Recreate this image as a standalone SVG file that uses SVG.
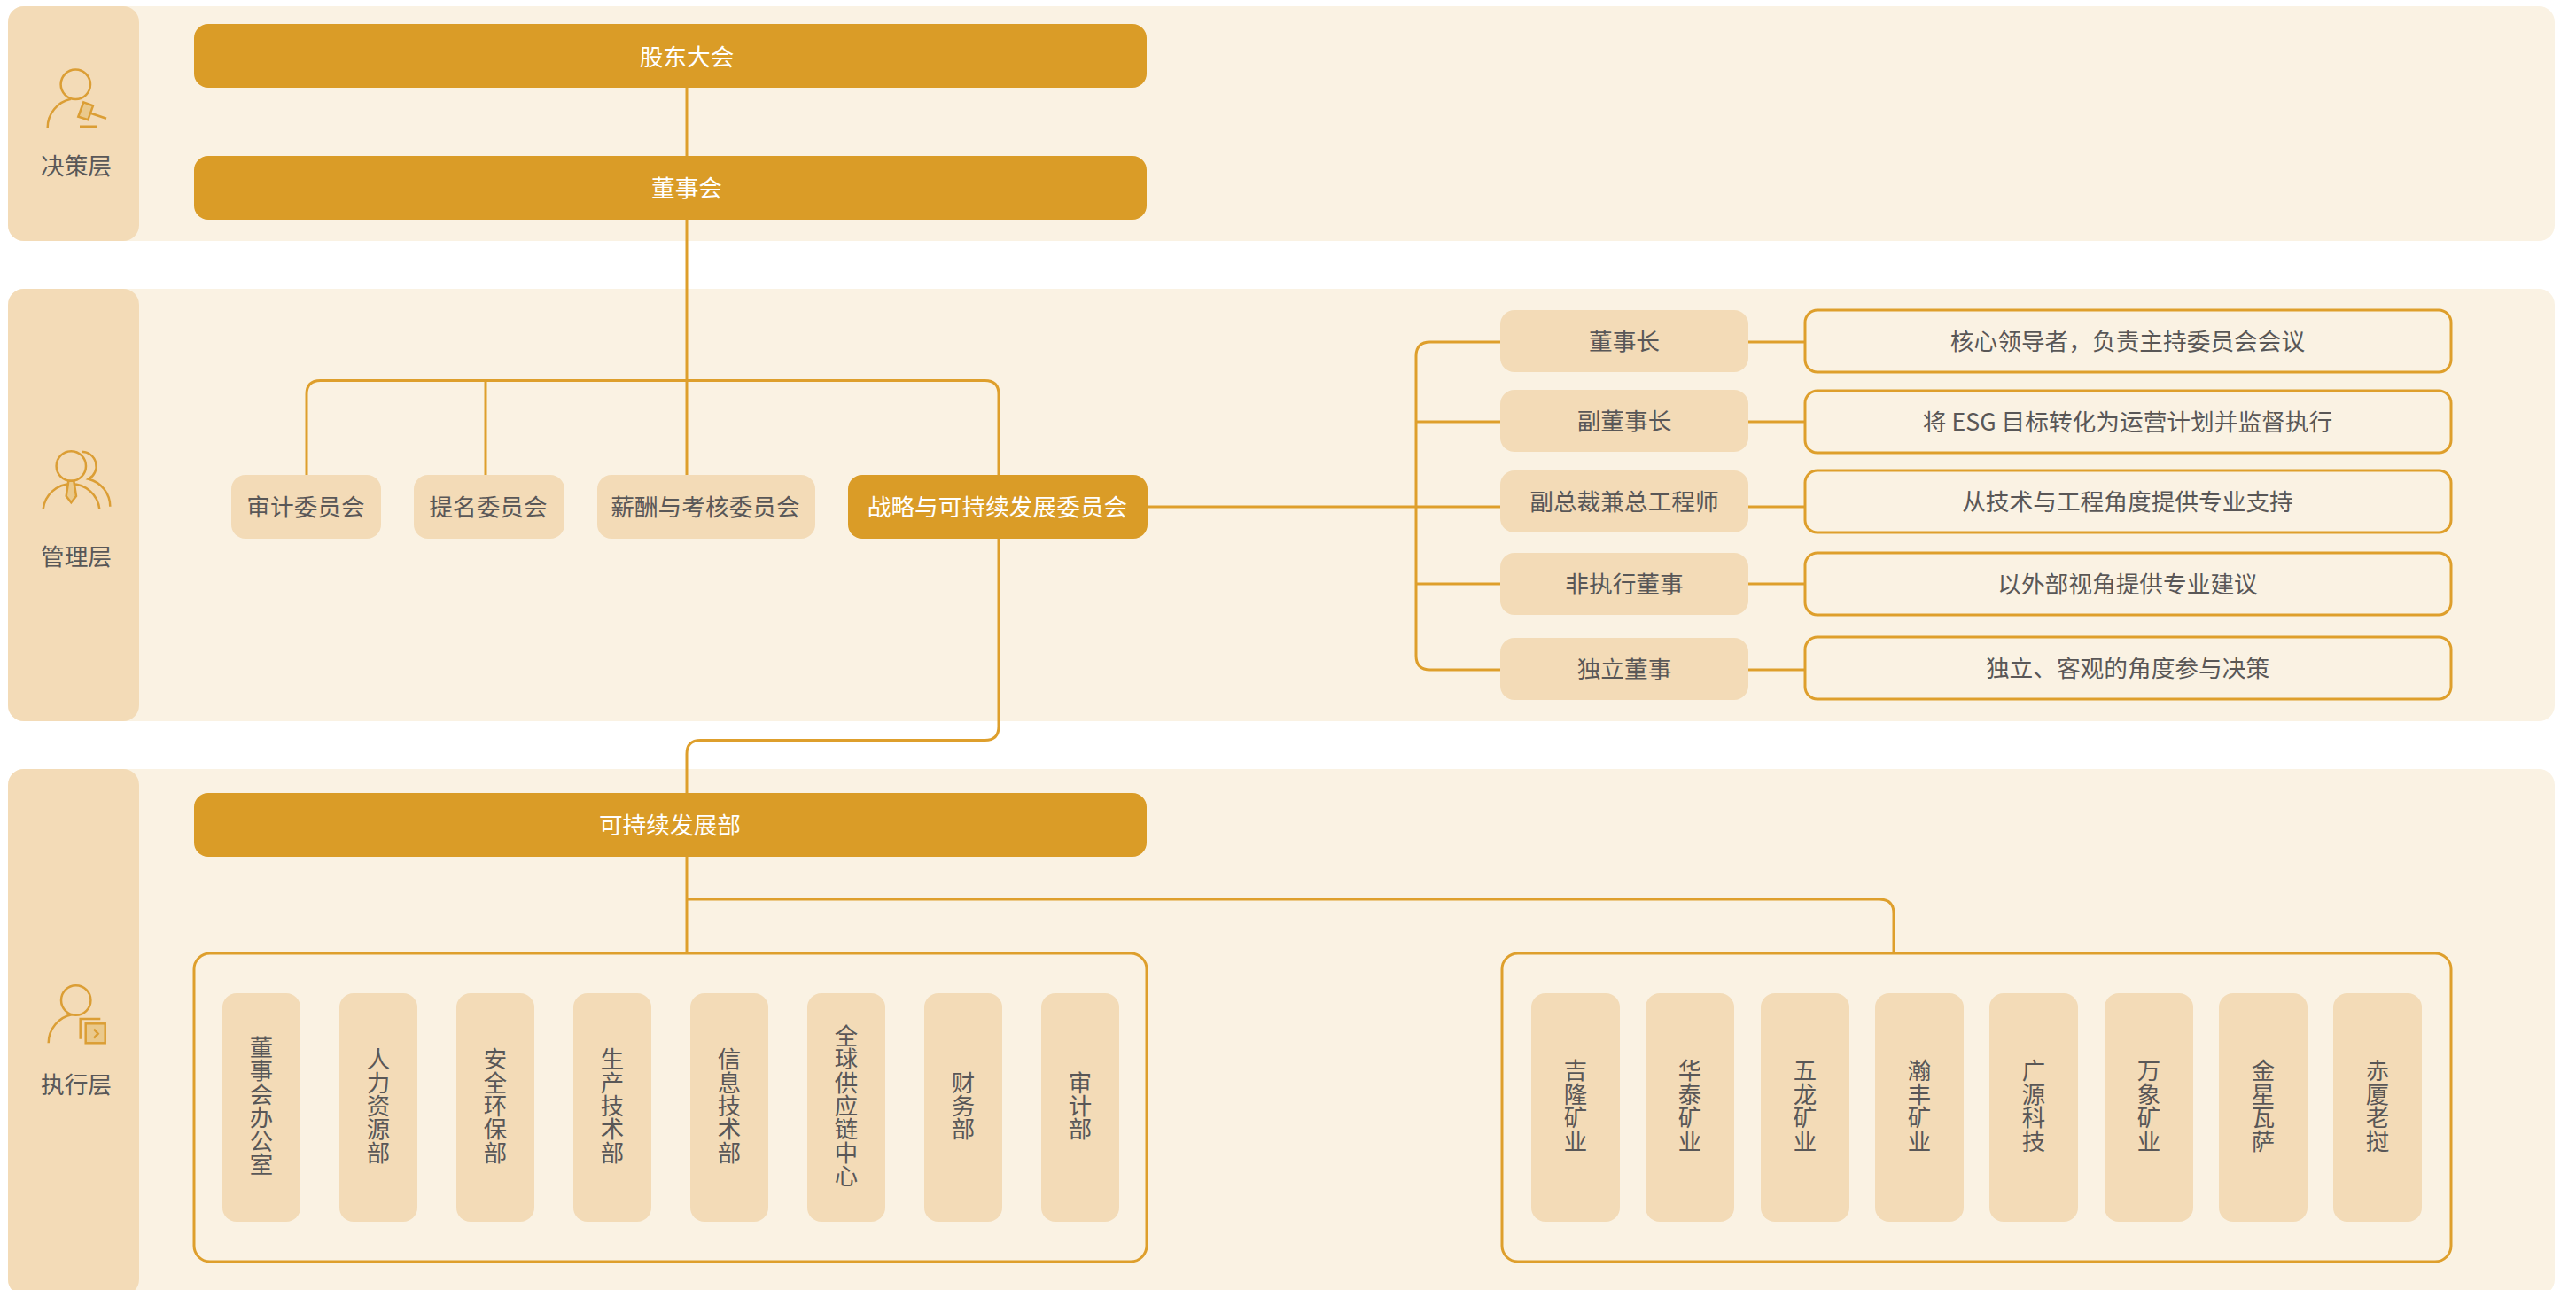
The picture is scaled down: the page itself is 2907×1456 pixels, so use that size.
<svg xmlns="http://www.w3.org/2000/svg" width="2907" height="1456" viewBox="0 0 2907 1456">
<style>
text{font-family:"Noto Sans CJK SC","Noto Sans",sans-serif;font-size:26.7px;text-anchor:middle;fill:#595757}
.w{fill:#fff}
.v{writing-mode:vertical-rl;text-orientation:upright;font-size:26.4px}
.band{fill:#FAF2E3}
.lab{fill:#F3DBB7}
.dark{fill:#DA9C27}
.det{fill:#FAF2E3;stroke:#DE9F2C;stroke-width:3}
.con{fill:none;stroke:#DE9F2C;stroke-width:3}
.ic{fill:none;stroke:#DB9E35;stroke-width:2.5}
.icf{fill:#EAC98C;stroke:#DB9E35;stroke-width:2.5}
</style>
<g id="bands">
<rect class="band" x="9" y="7" width="2874" height="265" rx="18"/>
<rect class="lab" x="9" y="7" width="148" height="265" rx="18"/>
<rect class="band" x="9" y="326" width="2874" height="488" rx="18"/>
<rect class="lab" x="9" y="326" width="148" height="488" rx="18"/>
<rect class="band" x="9" y="868" width="2874" height="594" rx="18"/>
<rect class="lab" x="9" y="868" width="148" height="594" rx="18"/>
</g>
<g id="connectors">
<path class="con" d="M775 99V176M775 248V536M346 536V445Q346 429.500 361.500 429.500H1111.500Q1127 429.500 1127 445V536M548 429.500V536"/>
<path class="con" d="M1127 608V820Q1127 835.500 1111.500 835.500H790.500Q775 835.500 775 851V895"/>
<path class="con" d="M1294 572H1693M1693 386H1614Q1598 386 1598 402V740Q1598 756 1614 756H1693M1598 476H1693M1598 659H1693"/>
<path class="con" d="M1973 386H2037M1973 476H2037M1973 572H2037M1973 659H2037M1973 756H2037"/>
<path class="con" d="M775 967V1076M775 1015H2121Q2137 1015 2137 1031V1076"/>
</g>
<g id="icon-decision">
<circle class="ic" cx="85.3" cy="95.3" r="16.7"/>
<path class="ic" d="M53.700 144A33 33 0 0 1 80 111.700"/>
<path class="icf" d="M94.300 115.300L105 119.300L99.300 135.300L88.300 131.700Z"/>
<path class="ic" d="M102.300 127.700L120 133.700M90 142.700H110"/>
</g>
<g id="icon-management">
<circle class="ic" cx="80.3" cy="526" r="16.7"/>
<path class="ic" d="M48.700 574.700A32 32 0 0 1 112.300 574.700M92 509.700A16.500 16.500 0 0 1 100 540.700A32 32 0 0 1 124.300 571.700"/>
<path class="icf" d="M77.300 542.700H83.300L86 560L80.300 567.300L74.700 560Z"/>
</g>
<g id="icon-execution">
<circle class="ic" cx="85.7" cy="1129" r="16.7"/>
<path class="ic" d="M54.700 1177.300A33 33 0 0 1 81.700 1145M113.300 1150H90.700V1172.700"/>
<rect class="icf" x="96.700" y="1155.300" width="22" height="22"/>
<path class="ic" d="M106 1161.700L110.700 1166.700L106 1171.700"/>
</g>
<g id="layer-decision"><text x="86" y="197">决策层</text></g>
<g id="layer-management"><text x="86" y="638">管理层</text></g>
<g id="layer-execution"><text x="86" y="1234">执行层</text></g>
<g id="n-gd"><rect class="dark" x="219" y="27" width="1075" height="72" rx="16"/><text class="w" x="775" y="74">股东大会</text></g>
<g id="n-dsh"><rect class="dark" x="219" y="176" width="1075" height="72" rx="16"/><text class="w" x="775" y="222">董事会</text></g>
<g id="n-sj"><rect class="lab" x="261" y="536" width="169" height="72" rx="16"/><text x="345" y="582">审计委员会</text></g>
<g id="n-tm"><rect class="lab" x="467" y="536" width="170" height="72" rx="16"/><text x="551" y="582">提名委员会</text></g>
<g id="n-xc"><rect class="lab" x="674" y="536" width="246" height="72" rx="16"/><text x="796" y="582">薪酬与考核委员会</text></g>
<g id="n-zl"><rect class="dark" x="957" y="536" width="338" height="72" rx="16"/><text class="w" x="1125.500" y="582">战略与可持续发展委员会</text></g>
<g id="n-r1"><rect class="lab" x="1693" y="350" width="280" height="70" rx="16"/><text x="1833" y="395">董事长</text></g>
<g id="n-r2"><rect class="lab" x="1693" y="440" width="280" height="70" rx="16"/><text x="1833" y="485">副董事长</text></g>
<g id="n-r3"><rect class="lab" x="1693" y="531" width="280" height="70" rx="16"/><text x="1833" y="576">副总裁兼总工程师</text></g>
<g id="n-r4"><rect class="lab" x="1693" y="624" width="280" height="70" rx="16"/><text x="1833" y="669">非执行董事</text></g>
<g id="n-r5"><rect class="lab" x="1693" y="720" width="280" height="70" rx="16"/><text x="1833" y="765">独立董事</text></g>
<g id="n-d1"><rect class="det" x="2037" y="350" width="729" height="70" rx="14"/><text x="2401" y="395">核心领导者，负责主持委员会会议</text></g>
<g id="n-d2"><rect class="det" x="2037" y="441" width="729" height="70" rx="14"/><text x="2401" y="486">将 ESG 目标转化为运营计划并监督执行</text></g>
<g id="n-d3"><rect class="det" x="2037" y="531" width="729" height="70" rx="14"/><text x="2401" y="576">从技术与工程角度提供专业支持</text></g>
<g id="n-d4"><rect class="det" x="2037" y="624" width="729" height="70" rx="14"/><text x="2401" y="669">以外部视角提供专业建议</text></g>
<g id="n-d5"><rect class="det" x="2037" y="719" width="729" height="70" rx="14"/><text x="2401" y="764">独立、客观的角度参与决策</text></g>
<g id="n-kcx"><rect class="dark" x="219" y="895" width="1075" height="72" rx="16"/><text class="w" x="756" y="941">可持续发展部</text></g>
<g id="n-box1"><rect class="det" x="219" y="1076" width="1075" height="348" rx="18"/></g>
<g id="n-box2"><rect class="det" x="1695" y="1076" width="1071" height="348" rx="18"/></g>
<g id="dept1"><rect class="lab" x="251" y="1121" width="88" height="258" rx="16"/><text class="v" x="295" y="1248">董事会办公室</text></g>
<g id="dept2"><rect class="lab" x="383" y="1121" width="88" height="258" rx="16"/><text class="v" x="427" y="1248">人力资源部</text></g>
<g id="dept3"><rect class="lab" x="515" y="1121" width="88" height="258" rx="16"/><text class="v" x="559" y="1248">安全环保部</text></g>
<g id="dept4"><rect class="lab" x="647" y="1121" width="88" height="258" rx="16"/><text class="v" x="691" y="1248">生产技术部</text></g>
<g id="dept5"><rect class="lab" x="779" y="1121" width="88" height="258" rx="16"/><text class="v" x="823" y="1248">信息技术部</text></g>
<g id="dept6"><rect class="lab" x="911" y="1121" width="88" height="258" rx="16"/><text class="v" x="955" y="1248">全球供应链中心</text></g>
<g id="dept7"><rect class="lab" x="1043" y="1121" width="88" height="258" rx="16"/><text class="v" x="1087" y="1248">财务部</text></g>
<g id="dept8"><rect class="lab" x="1175" y="1121" width="88" height="258" rx="16"/><text class="v" x="1219" y="1248">审计部</text></g>
<g id="co1"><rect class="lab" x="1728" y="1121" width="100" height="258" rx="16"/><text class="v" x="1778" y="1248">吉隆矿业</text></g>
<g id="co2"><rect class="lab" x="1857" y="1121" width="100" height="258" rx="16"/><text class="v" x="1907" y="1248">华泰矿业</text></g>
<g id="co3"><rect class="lab" x="1987" y="1121" width="100" height="258" rx="16"/><text class="v" x="2037" y="1248">五龙矿业</text></g>
<g id="co4"><rect class="lab" x="2116" y="1121" width="100" height="258" rx="16"/><text class="v" x="2166" y="1248">瀚丰矿业</text></g>
<g id="co5"><rect class="lab" x="2245" y="1121" width="100" height="258" rx="16"/><text class="v" x="2295" y="1248">广源科技</text></g>
<g id="co6"><rect class="lab" x="2375" y="1121" width="100" height="258" rx="16"/><text class="v" x="2425" y="1248">万象矿业</text></g>
<g id="co7"><rect class="lab" x="2504" y="1121" width="100" height="258" rx="16"/><text class="v" x="2554" y="1248">金星瓦萨</text></g>
<g id="co8"><rect class="lab" x="2633" y="1121" width="100" height="258" rx="16"/><text class="v" x="2683" y="1248">赤厦老挝</text></g>
</svg>
